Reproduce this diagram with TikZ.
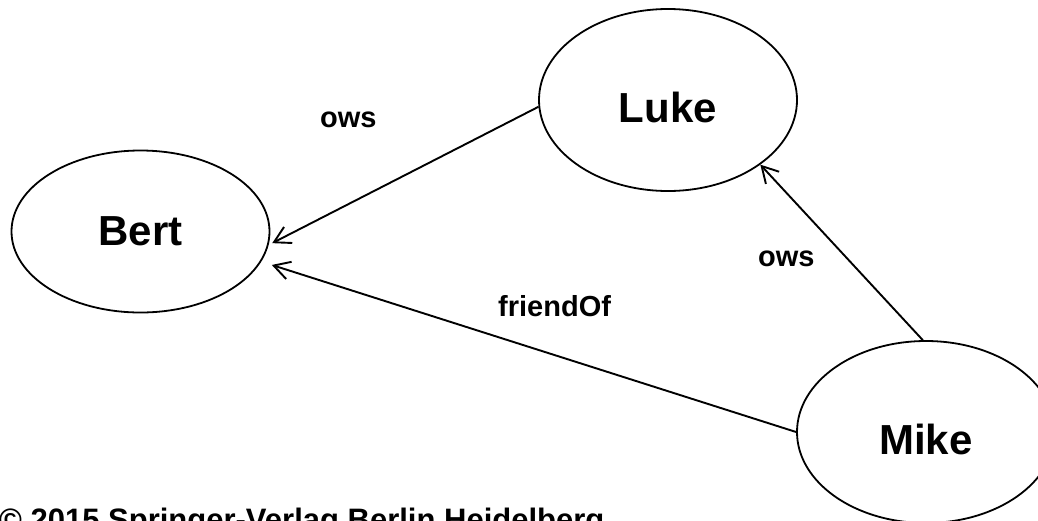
\documentclass[tikz,border=0pt]{standalone}
\usepackage{fontspec}
\setmainfont{Liberation Sans}
\usetikzlibrary{shapes.geometric,arrows.meta}
\begin{document}
\begin{tikzpicture}[x=1pt,y=-1pt,
  person/.style={ellipse,draw,line width=1.8pt,inner sep=0pt,
    minimum width=258pt,minimum height=162pt,
    font=\fontsize{42}{42}\selectfont\bfseries},
  lowtext/.style={text height=44pt,text depth=0pt},
  rel/.style={draw,line width=1.9pt,
    -{Straight Barb[length=16pt,width=18pt,line width=1.9pt]}},
  lbl/.style={anchor=base west,inner sep=0pt,
    font=\fontsize{29}{29}\selectfont\bfseries}]
  \useasboundingbox (0,0) rectangle (1038,520);

  % people
  \node[person] (bert) at (140.5,231.5) {Bert};
  \node[person,lowtext,minimum height=182pt] (luke) at (668,100) {Luke};
  \node[person,lowtext,minimum height=182pt] (mike) at (926,432) {Mike};

  % relations
  \draw[rel,shorten >=4pt] (luke.183) -- (bert.-6);
  \draw[rel,shorten >=11pt] (mike.180) -- (bert.-14);
  \draw[rel] (mike.92) -- (luke.-35);

  % relation labels
  \node[lbl] (owsA) at (320,127) {ows};
  \node[lbl] (owsB) at (758,266) {ows};
  \node[lbl] (fof) at (498,316) {friendOf};

  % copyright line
  \node[anchor=base west,inner sep=0pt,font=\fontsize{31}{31}\selectfont\bfseries]
    (copy) at (-1,530) {© 2015 Springer-Verlag Berlin Heidelberg};
\end{tikzpicture}
\end{document}
